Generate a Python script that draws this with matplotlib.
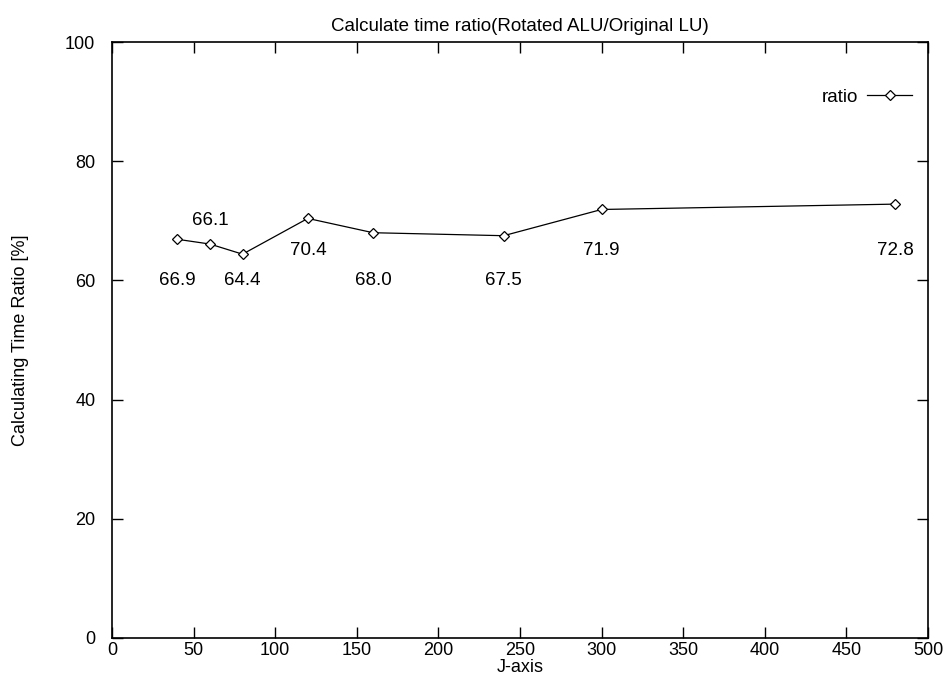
import matplotlib
matplotlib.use('Agg')
import matplotlib.pyplot as plt

plt.rcParams['font.family'] = ['Liberation Sans', 'DejaVu Sans']

# data
j_axis = [40, 60, 80, 120, 160, 240, 300, 480]
ratio = [66.9, 66.1, 64.4, 70.4, 68.0, 67.5, 71.9, 72.8]
label_text = ['66.9', '66.1', '64.4', '70.4', '68.0', '67.5', '71.9', '72.8']
label_y = [60, 70, 60, 65, 60, 60, 65, 65]

x_ticks = list(range(0, 501, 50))
y_ticks = list(range(0, 101, 20))

fig = plt.figure(figsize=(9.45, 6.83), dpi=100)
ax = fig.add_axes([0.1185, 0.0659, 0.8635, 0.8726])

ax.plot(j_axis, ratio, color='black', linewidth=0.9, marker='D', markersize=5,
        markerfacecolor='white', markeredgecolor='black', markeredgewidth=0.9,
        label='ratio')

for x, y, t in zip(j_axis, label_y, label_text):
    ax.text(x, y, t, ha='center', va='center', fontsize=13.5)

ax.set_xlim(0, 500)
ax.set_ylim(0, 100)
ax.set_xticks(x_ticks)
ax.set_yticks(y_ticks)
ax.tick_params(direction='in', length=8, width=1, top=True, right=True,
               labelsize=13)
ax.tick_params(axis='y', pad=12)
ax.tick_params(axis='x', pad=3)
for sp in ax.spines.values():
    sp.set_linewidth(1.2)

ax.set_title('Calculate time ratio(Rotated ALU/Original LU)', fontsize=13.5, pad=8)
ax.set_xlabel('J-axis', fontsize=13, labelpad=0)
ax.set_ylabel('Calculating Time Ratio [%]', fontsize=13, labelpad=26)

leg = ax.legend(loc='upper right', bbox_to_anchor=(0.981, 0.922), frameon=False,
                markerfirst=False, fontsize=13.5, handlelength=2.4,
                handletextpad=0.5, borderaxespad=0, borderpad=0)

fig.savefig('out.png', dpi=100)
